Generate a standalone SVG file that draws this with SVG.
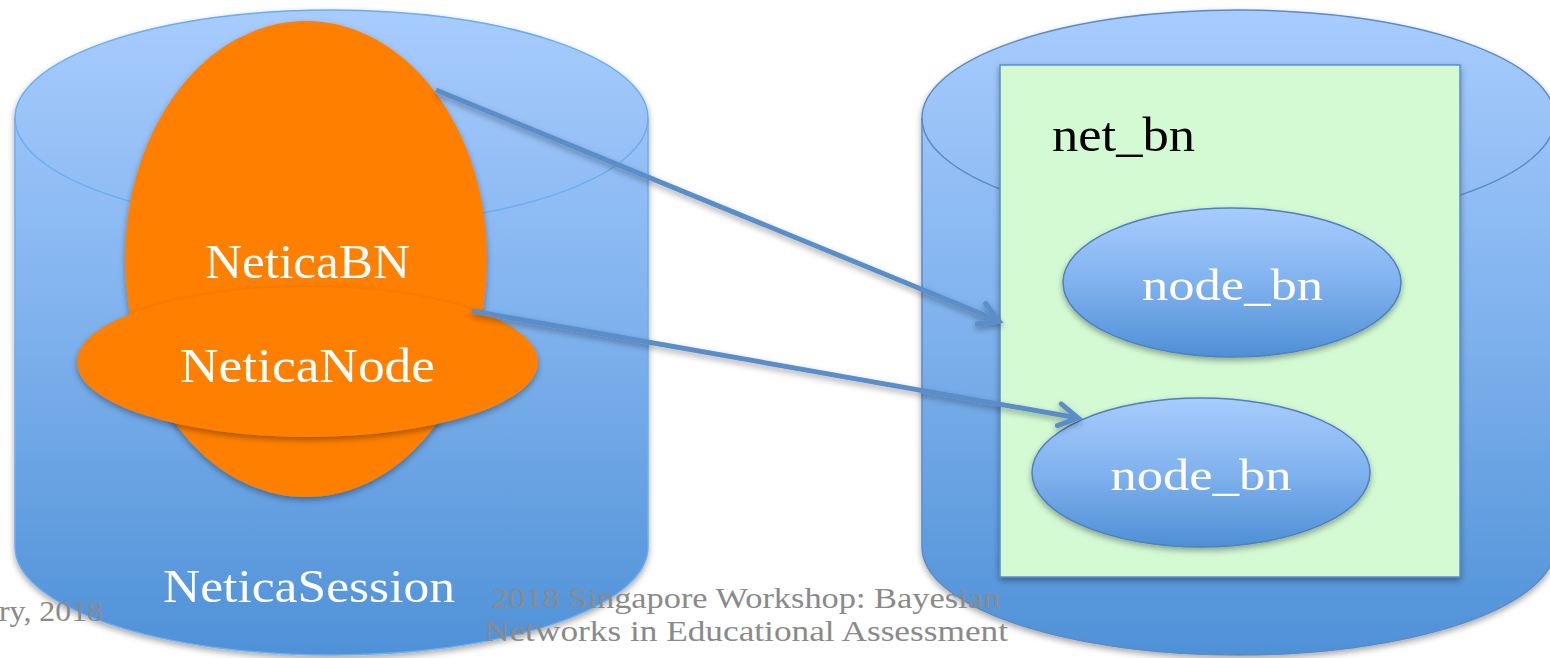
<svg xmlns="http://www.w3.org/2000/svg" width="1550" height="658" viewBox="0 0 1550 658">
  <defs>
    <style>
      .cyl { fill: url(#cylFill); }
      .cyl-left { stroke: #6aaef0; stroke-width: 1.5; }
      .cyl-right { stroke: #5a8bc8; stroke-width: 1.5; }
      .rim { fill: none; }
      .orange { fill: #ff7f00; }
      .lbl { font-family: "Liberation Serif", "Times New Roman", serif; fill: #ffffff; text-anchor: middle; }
      .big { font-size: 48px; }
      .mid { font-size: 46px; }
      .box { fill: #d4fad4; stroke: #5a8dc9; stroke-width: 1.5; }
      .node { fill: url(#nodeFill); stroke: #4f80bf; stroke-width: 1.5; }
      .footer { font-family: "Liberation Serif", "Times New Roman", serif; font-size: 30px; fill: #8a8a8a; }
      .conn { fill: none; stroke: #5a8ec9; stroke-width: 5; }
    </style>
    <linearGradient id="cylFill" gradientUnits="userSpaceOnUse" x1="0" y1="10" x2="0" y2="655">
      <stop offset="0" stop-color="#a8ccfe"/>
      <stop offset="0.5" stop-color="#7eb1ed"/>
      <stop offset="1" stop-color="#4f91d7"/>
    </linearGradient>
    <linearGradient id="nodeFill" x1="0" y1="0" x2="0" y2="1">
      <stop offset="0" stop-color="#a8ccfe"/>
      <stop offset="0.5" stop-color="#80b2ee"/>
      <stop offset="1" stop-color="#4f8fd5"/>
    </linearGradient>
    <filter id="shadow" x="-10%" y="-10%" width="120%" height="130%">
      <feDropShadow dx="0" dy="3" stdDeviation="3" flood-color="#000000" flood-opacity="0.35"/>
    </filter>
    <marker id="chevron" markerUnits="userSpaceOnUse" viewBox="0 0 30 30" refX="25" refY="15" markerWidth="30" markerHeight="30" orient="auto" overflow="visible">
      <path d="M6,4 L25,15 L6,26" fill="none" stroke="#5a8ec9" stroke-width="5" stroke-linecap="round" stroke-linejoin="miter"/>
    </marker>
  </defs>

  <rect width="1550" height="658" fill="#ffffff"/>

  <!-- left store: NeticaSession -->
  <g id="netica-session">
    <path class="cyl cyl-left" filter="url(#shadow)" d="M15,118 A316.5,108 0 0,1 648,118 L648,547 A316.5,108 0 0,1 15,547 Z"/>
    <path class="rim cyl-left" d="M15,118 A316.5,108 0 0,0 648,118"/>
    <text class="lbl mid" x="309" y="602" textLength="292" lengthAdjust="spacingAndGlyphs">NeticaSession</text>
  </g>

  <!-- network object -->
  <g id="netica-bn">
    <ellipse class="orange" filter="url(#shadow)" cx="306" cy="259" rx="181" ry="238"/>
    <text class="lbl big" x="307.5" y="278" textLength="205" lengthAdjust="spacingAndGlyphs">NeticaBN</text>
  </g>

  <!-- node object -->
  <g id="netica-node">
    <ellipse class="orange" filter="url(#shadow)" cx="307.5" cy="362" rx="230.5" ry="75"/>
    <text class="lbl big" x="307.5" y="382" textLength="255" lengthAdjust="spacingAndGlyphs">NeticaNode</text>
  </g>

  <!-- right store -->
  <g id="r-session">
    <path class="cyl cyl-right" filter="url(#shadow)" d="M922,118 A316.5,108 0 0,1 1555,118 L1555,547 A316.5,108 0 0,1 922,547 Z"/>
    <path class="rim cyl-right" d="M922,118 A316.5,108 0 0,0 1555,118"/>
  </g>

  <!-- R-side network container -->
  <g id="net-bn">
    <rect class="box" filter="url(#shadow)" x="1000" y="65" width="460" height="512"/>
    <text x="1052" y="151" font-family="Liberation Serif, Times New Roman, serif" font-size="48" fill="#000000" textLength="143" lengthAdjust="spacingAndGlyphs">net_bn</text>
  </g>

  <g id="node-bn-1">
    <ellipse class="node" filter="url(#shadow)" cx="1232" cy="282.5" rx="169" ry="74.5"/>
    <text class="lbl" font-size="45" x="1232.5" y="300" textLength="181" lengthAdjust="spacingAndGlyphs">node_bn</text>
  </g>

  <g id="node-bn-2">
    <ellipse class="node" filter="url(#shadow)" cx="1201" cy="472.5" rx="169" ry="74.5"/>
    <text class="lbl" font-size="45" x="1201" y="490" textLength="181" lengthAdjust="spacingAndGlyphs">node_bn</text>
  </g>

  <!-- links from Netica objects to their R counterparts -->
  <g id="connectors" filter="url(#shadow)">
    <path class="conn" marker-end="url(#chevron)" d="M436,90 L999,321"/>
    <path class="conn" marker-end="url(#chevron)" d="M472,311 L1078,418"/>
  </g>

  <!-- slide footer -->
  <g id="footer">
    <text class="footer" x="-1" y="621" textLength="104" lengthAdjust="spacingAndGlyphs">ry, 2018</text>
    <text class="footer" x="491" y="608" textLength="509" lengthAdjust="spacingAndGlyphs">2018 Singapore Workshop: Bayesian</text>
    <text class="footer" x="484" y="641" textLength="524" lengthAdjust="spacingAndGlyphs">Networks in Educational Assessment</text>
  </g>
</svg>
